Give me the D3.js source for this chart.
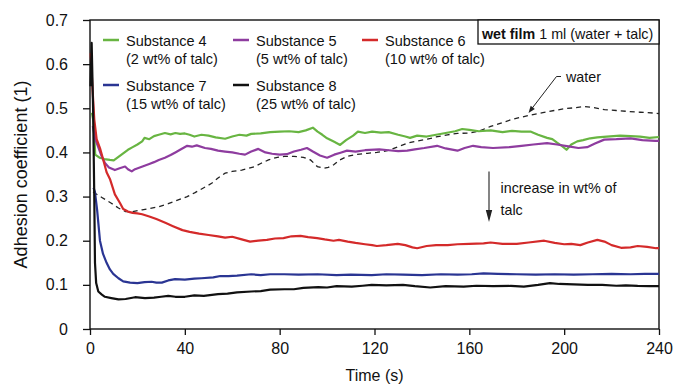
<!DOCTYPE html>
<html>
<head>
<meta charset="utf-8">
<script src="https://cdn.jsdelivr.net/npm/d3@7"></script>
<style>
  body { margin: 0; background: #fff; }
  svg { display: block; }
  text { font-family: "Liberation Sans", Arial, Helvetica, sans-serif; fill: #111; }
</style>
</head>
<body>
<svg id="chart" width="673" height="389"></svg>
<script>
// Axis ticks
const timeTicks = [0, 40, 80, 120, 160, 200, 240];
const coefTicks = [0, 0.1, 0.2, 0.3, 0.4, 0.5, 0.6, 0.7];

// Measured adhesion coefficient, [time (s), coefficient]
const substance4 = [[0.8,0.49],[1.5,0.47],[2.2,0.395],[4,0.388],[6,0.385],[8.4,0.383],[10,0.382],[12,0.39],[14,0.398],[16,0.406],[18,0.412],[20,0.418],[22,0.425],[23,0.433],[25,0.43],[27,0.437],[29,0.44],[31.6,0.444],[34,0.441],[36,0.444],[38,0.442],[40,0.443],[42,0.44],[44,0.436],[47,0.44],[50,0.438],[53,0.434],[57,0.431],[60,0.436],[63,0.44],[66,0.438],[68,0.442],[72,0.443],[76,0.446],[80,0.447],[84,0.448],[88,0.446],[91,0.45],[94,0.456],[96,0.447],[98,0.44],[100,0.432],[103,0.424],[105.5,0.417],[108,0.428],[111,0.438],[113,0.447],[116,0.444],[119,0.447],[122.7,0.445],[126,0.446],[130,0.44],[133,0.436],[135,0.433],[138,0.438],[142,0.436],[146,0.44],[150,0.444],[154,0.448],[157,0.453],[160,0.451],[164,0.448],[169,0.45],[174,0.446],[178,0.449],[182,0.447],[186,0.447],[189,0.44],[192.8,0.433],[195,0.43],[197,0.422],[199,0.415],[201,0.406],[203,0.418],[205.5,0.425],[208,0.428],[211,0.432],[214,0.434],[218,0.436],[223.6,0.438],[228,0.437],[232,0.436],[236,0.433],[240,0.435]];
const substance5 = [[1.2,0.46],[2.2,0.43],[3.4,0.413],[5,0.39],[6.3,0.376],[8,0.366],[10.5,0.36],[12.5,0.364],[14.8,0.368],[16,0.362],[17.6,0.357],[19,0.362],[21,0.366],[23,0.37],[25,0.374],[27,0.378],[29,0.383],[31.6,0.388],[34,0.394],[36,0.4],[38,0.406],[41,0.415],[43,0.413],[45,0.416],[48.5,0.41],[51,0.408],[54,0.404],[57,0.402],[60,0.4],[63,0.397],[65.4,0.395],[68,0.402],[71,0.408],[74,0.4],[76.8,0.397],[80,0.395],[83,0.396],[86,0.402],[89,0.406],[91.5,0.41],[94,0.402],[97,0.393],[100,0.388],[103,0.395],[106,0.4],[108.4,0.404],[112,0.402],[116,0.405],[122,0.407],[126,0.405],[130,0.403],[133.8,0.404],[137,0.407],[141,0.41],[146.4,0.415],[150,0.409],[155,0.404],[158,0.41],[161.6,0.415],[165,0.412],[170,0.41],[177,0.412],[182,0.415],[187,0.418],[192.8,0.421],[197,0.418],[202.5,0.413],[206,0.41],[209.7,0.412],[213,0.42],[216.9,0.429],[222,0.43],[228,0.432],[233,0.428],[238.4,0.426],[240,0.426]];
const substance6 = [[0.3,0.625],[1,0.55],[1.8,0.475],[2.8,0.43],[4.2,0.41],[5.5,0.385],[7,0.355],[8.4,0.34],[10.5,0.305],[12.7,0.285],[14,0.272],[16,0.266],[18,0.263],[20,0.262],[22,0.26],[25,0.255],[28,0.249],[32,0.24],[35,0.233],[39,0.224],[42,0.22],[46,0.216],[50,0.213],[54,0.21],[57,0.207],[60,0.209],[64,0.203],[67.5,0.198],[71,0.2],[74.6,0.202],[78,0.205],[81.6,0.206],[85,0.21],[88.8,0.211],[92,0.208],[95.8,0.206],[99,0.203],[102.7,0.2],[105,0.202],[108.7,0.198],[112,0.195],[116,0.192],[119,0.19],[121,0.188],[125,0.19],[129.8,0.193],[133,0.19],[136,0.185],[138,0.183],[142,0.188],[146,0.19],[150.9,0.19],[155,0.192],[160,0.193],[166,0.194],[169,0.196],[174,0.193],[180,0.193],[185,0.196],[191.6,0.2],[196,0.195],[200,0.192],[203,0.193],[206.8,0.19],[210,0.196],[214,0.202],[217,0.198],[220,0.19],[224,0.184],[228,0.185],[231,0.188],[235,0.186],[238.8,0.183],[240,0.183]];
const substance7 = [[1.5,0.32],[2.1,0.31],[3,0.27],[4.2,0.2],[5.5,0.17],[7,0.15],[8.4,0.135],[9.8,0.125],[12,0.115],[14,0.108],[16.9,0.105],[20,0.104],[23,0.106],[26,0.107],[28,0.105],[30.3,0.105],[33,0.11],[35.9,0.113],[40,0.112],[44,0.114],[47,0.115],[52,0.117],[55,0.12],[58.4,0.12],[62,0.121],[68,0.124],[72,0.122],[76,0.124],[82,0.124],[88,0.123],[96,0.124],[104,0.122],[110,0.123],[118.8,0.122],[125,0.124],[132,0.123],[140,0.122],[148,0.124],[155,0.123],[161,0.124],[166,0.126],[172,0.125],[180,0.124],[188,0.123],[196,0.124],[204,0.123],[212,0.124],[220,0.125],[228,0.124],[234,0.125],[240,0.125]];
const substance8 = [[0.2,0.55],[0.7,0.648],[1.3,0.5],[1.8,0.3],[2.1,0.15],[2.6,0.104],[3.5,0.085],[5,0.078],[6.3,0.073],[9,0.07],[12,0.067],[15,0.068],[19,0.072],[23.2,0.07],[27,0.071],[30,0.073],[33,0.075],[36,0.073],[40,0.073],[44,0.076],[48,0.075],[54,0.079],[58,0.08],[62,0.083],[68,0.085],[72,0.086],[76,0.089],[82,0.09],[86,0.09],[90,0.093],[96.3,0.095],[100,0.094],[104,0.097],[110.4,0.096],[115,0.098],[118.8,0.1],[125,0.099],[132,0.1],[137,0.097],[143.5,0.094],[150,0.097],[157.6,0.096],[163,0.098],[170,0.097],[177.5,0.0975],[183,0.096],[189,0.1],[194,0.104],[198,0.102],[204,0.101],[210,0.1],[216,0.1],[222,0.098],[226,0.099],[231,0.0975],[236,0.097],[240,0.097]];
const water = [[1.3,0.31],[2,0.308],[5,0.298],[9,0.285],[12,0.274],[15,0.266],[18,0.266],[22,0.27],[25,0.273],[29,0.277],[33,0.284],[37.5,0.293],[41,0.3],[44.3,0.309],[48,0.32],[51.3,0.33],[54,0.342],[57,0.353],[60,0.357],[64,0.36],[67,0.364],[69.6,0.368],[72,0.375],[75.3,0.383],[79,0.389],[82,0.391],[86,0.391],[90,0.389],[93,0.383],[95.9,0.368],[98.6,0.364],[100.5,0.366],[102.8,0.372],[105,0.382],[108.5,0.391],[112,0.395],[117,0.398],[121,0.4],[125.4,0.404],[130,0.413],[133.9,0.421],[138,0.426],[142.3,0.43],[146,0.435],[150.8,0.44],[155,0.443],[160,0.444],[164,0.448],[169,0.459],[173,0.466],[177.6,0.474],[182,0.48],[186,0.485],[191,0.49],[195.8,0.495],[200,0.499],[204,0.501],[208.6,0.504],[212,0.502],[217,0.497],[222,0.495],[226.6,0.493],[232,0.491],[238.4,0.489],[240,0.488]];

// Legend text and colours, in drawing order
const seriesNames = ["Substance 4", "Substance 5", "Substance 6", "Substance 7", "Substance 8"];
const seriesNotes = ["(2 wt% of talc)", "(5 wt% of talc)", "(10 wt% of talc)", "(15 wt% of talc)", "(25 wt% of talc)"];
const seriesColors = ["#68b542", "#8e3c9f", "#d42a2a", "#2a3593", "#111111"];
const seriesData = [substance4, substance5, substance6, substance7, substance8];

const svg = d3.select("#chart");
const W = 673, H = 389;
const margin = { top: 20, right: 14, bottom: 60, left: 90 };
const x = d3.scaleLinear().domain([0, 240]).range([margin.left, W - margin.right]);
const y = d3.scaleLinear().domain([0, 0.7]).range([H - margin.bottom, margin.top]);

// Axes
const yAxis = svg.append("g")
  .attr("transform", `translate(${margin.left},0)`)
  .call(d3.axisLeft(y).tickValues(coefTicks).tickSize(7).tickPadding(15)
    .tickFormat(d => d === 0 ? "0" : d.toFixed(1)));
const xAxis = svg.append("g")
  .attr("transform", `translate(0,${H - margin.bottom})`)
  .call(d3.axisBottom(x).tickValues(timeTicks).tickSize(6).tickPadding(8));
[yAxis, xAxis].forEach(g => {
  g.select(".domain").remove();
  g.selectAll(".tick line").attr("stroke", "#111").attr("stroke-width", 1.3);
  g.selectAll(".tick text").attr("font-size", 16).attr("font-family", null).attr("fill", "#111");
});

// Plot frame
svg.append("rect")
  .attr("x", x(0)).attr("y", y(0.7))
  .attr("width", x(240) - x(0)).attr("height", y(0) - y(0.7))
  .attr("fill", "none").attr("stroke", "#111").attr("stroke-width", 1.4);

// Axis titles
svg.append("text")
  .attr("x", (x(0) + x(240)) / 2).attr("y", 381)
  .attr("text-anchor", "middle").attr("font-size", 16)
  .text("Time (s)");
svg.append("text")
  .attr("transform", `translate(27,${(y(0) + y(0.7)) / 2}) rotate(-90)`)
  .attr("text-anchor", "middle").attr("font-size", 18)
  .text("Adhesion coefficient (1)");

const line = d3.line().x(d => x(d[0])).y(d => y(d[1]));

// Water reference curve (dashed)
svg.append("path")
  .datum(water)
  .attr("d", line)
  .attr("fill", "none").attr("stroke", "#222")
  .attr("stroke-width", 1.3).attr("stroke-dasharray", "5,4");

// Substance curves
svg.selectAll("path.series")
  .data(seriesData)
  .join("path")
  .attr("class", "series")
  .attr("d", line)
  .attr("fill", "none")
  .attr("stroke", (d, i) => seriesColors[i])
  .attr("stroke-width", 2.2)
  .attr("stroke-linejoin", "round");

// Legend (three columns, two rows)
const legendCols = [103, 233, 362];
const legendRows = [40, 85];
const legend = svg.append("g");
seriesNames.forEach((name, i) => {
  const lx = legendCols[i % 3], ly = legendRows[Math.floor(i / 3)];
  legend.append("line")
    .attr("x1", lx).attr("x2", lx + 16).attr("y1", ly).attr("y2", ly)
    .attr("stroke", seriesColors[i]).attr("stroke-width", 2.5);
  legend.append("text").attr("x", lx + 23).attr("y", ly + 6)
    .attr("font-size", 14.5).text(name);
  legend.append("text").attr("x", lx + 23).attr("y", ly + 24)
    .attr("font-size", 14.5).text(seriesNotes[i]);
});

// Sample description box
svg.append("rect")
  .attr("x", 478).attr("y", y(0.7)).attr("width", x(240) - 478).attr("height", 24)
  .attr("fill", "#fff").attr("stroke", "#111").attr("stroke-width", 1.3);
const boxText = svg.append("text").attr("x", 482).attr("y", 38.5).attr("font-size", 14.3);
boxText.append("tspan").attr("font-weight", "bold").text("wet film");
boxText.append("tspan").text(" 1 ml (water + talc)");

// "water" callout arrow
const tip = [528.5, 113];
svg.append("polyline")
  .attr("points", `561,76.5 556.5,76.5 ${tip[0] + 2.5},${tip[1] - 3.3}`)
  .attr("fill", "none").attr("stroke", "#222").attr("stroke-width", 1);
{
  const ang = Math.atan2(tip[1] - 76.5, tip[0] - 556.5);
  const L = 7, Wd = 2.6;
  const bx = tip[0] - L * Math.cos(ang), by = tip[1] - L * Math.sin(ang);
  const px = -Math.sin(ang) * Wd, py = Math.cos(ang) * Wd;
  svg.append("path")
    .attr("d", `M${tip[0]},${tip[1]}L${bx + px},${by + py}L${bx - px},${by - py}Z`)
    .attr("fill", "#222");
}
svg.append("text").attr("x", 566).attr("y", 82).attr("font-size", 14.3).text("water");

// Trend arrow
svg.append("line")
  .attr("x1", 489).attr("x2", 489).attr("y1", 171.5).attr("y2", 212)
  .attr("stroke", "#333").attr("stroke-width", 1.2);
svg.append("path")
  .attr("d", "M489,222L485.8,210L492.2,210Z").attr("fill", "#222");
svg.append("text").attr("x", 500.5).attr("y", 193).attr("font-size", 14.3).text("increase in wt% of");
svg.append("text").attr("x", 500.5).attr("y", 215).attr("font-size", 14.3).text("talc");
</script>
</body>
</html>
